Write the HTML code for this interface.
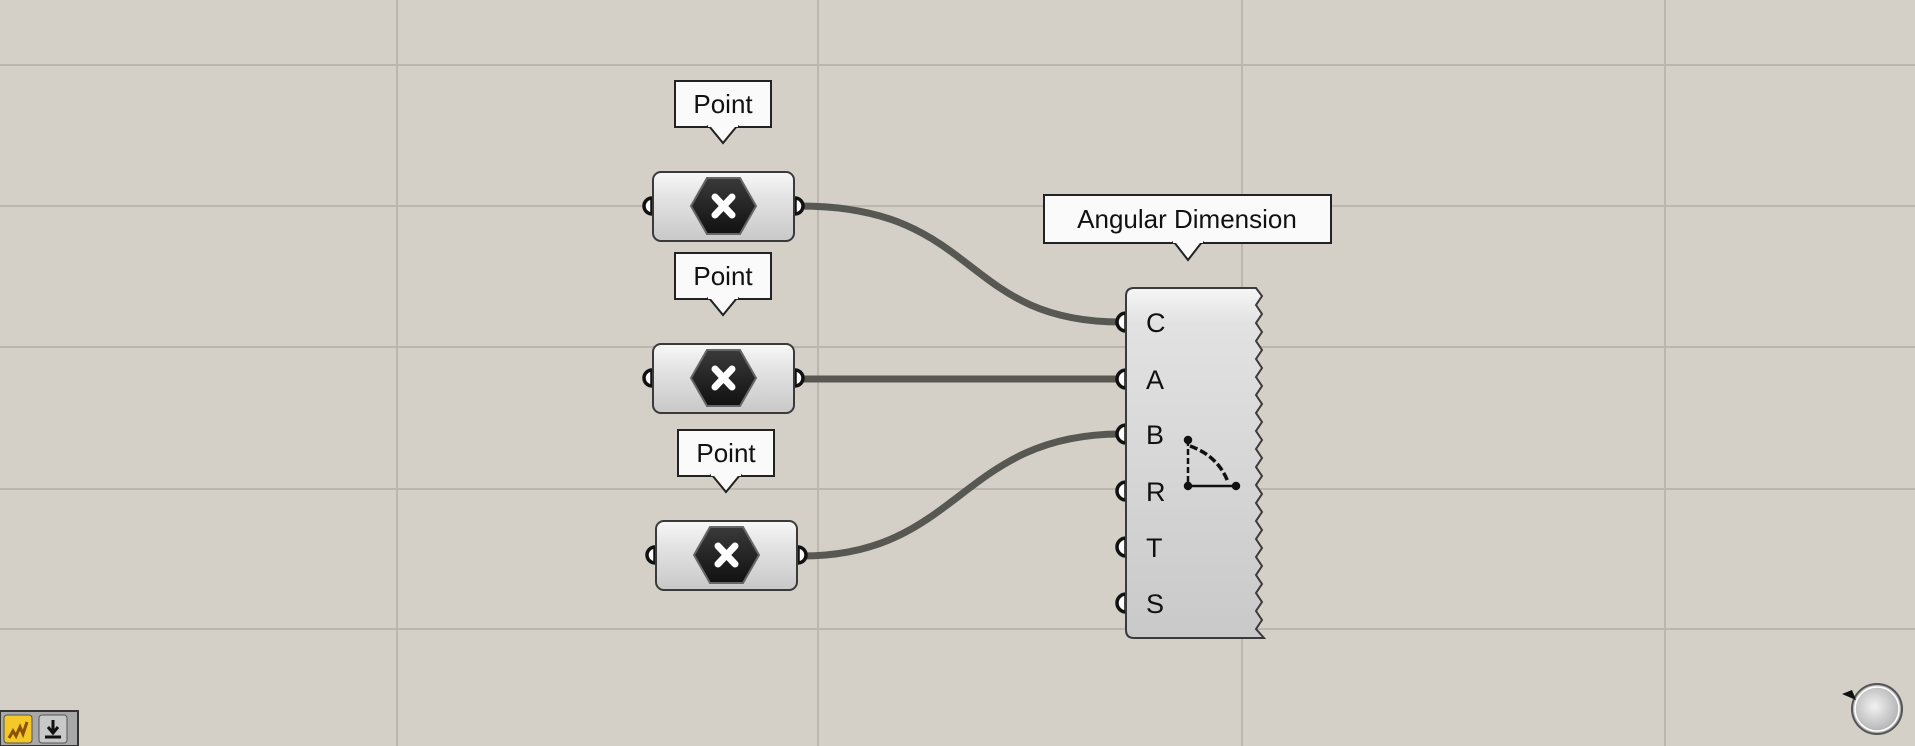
<!DOCTYPE html>
<html><head><meta charset="utf-8"><style>
html,body{margin:0;padding:0;background:#d4d0c8;}
svg{display:block}
text{font-family:"Liberation Sans","DejaVu Sans",sans-serif;}
</style></head><body>
<svg width="1915" height="746" viewBox="0 0 1915 746" xmlns="http://www.w3.org/2000/svg">
<defs>
<linearGradient id="ng" x1="0" y1="0" x2="0" y2="1">
<stop offset="0" stop-color="#f8f8f8"/><stop offset="0.35" stop-color="#e4e4e4"/><stop offset="1" stop-color="#c8c8c8"/>
</linearGradient>
<linearGradient id="bg2" x1="0" y1="0" x2="0" y2="1">
<stop offset="0" stop-color="#f6f6f6"/><stop offset="0.1" stop-color="#e2e2e2"/><stop offset="1" stop-color="#c9c9c9"/>
</linearGradient>
<linearGradient id="hg" x1="0" y1="0" x2="0" y2="1">
<stop offset="0" stop-color="#3a3a3a"/><stop offset="1" stop-color="#111"/>
</linearGradient>
<radialGradient id="cg" cx="0.45" cy="0.45" r="0.6">
<stop offset="0" stop-color="#f2f2f2"/><stop offset="1" stop-color="#a8a8a8"/>
</radialGradient>
<g id="pt">
<path d="M-1,26 A8,8 0 0 0 -1,42 Z" fill="#fff" stroke="#111" stroke-width="3.5"/>
<path d="M142,26 A8,8 0 0 1 142,42 Z" fill="#fff" stroke="#111" stroke-width="3.5"/>
<rect x="0" y="0" width="141" height="69" rx="8" fill="url(#ng)" stroke="#3a3a3a" stroke-width="2"/>
<polygon points="38,34 54,6 87,6 103,34 87,62 54,62" fill="url(#hg)" stroke="#666" stroke-width="2"/>
<path d="M62,25 L79,43 M79,25 L62,43" stroke="#fff" stroke-width="7" stroke-linecap="round"/>
</g>
<g id="lbl">
<rect x="0" y="0" width="96" height="46" fill="#fafafa" stroke="#222" stroke-width="2"/>
<polygon points="34,45 48,62 62,45" fill="#fafafa" stroke="#222" stroke-width="2"/>
<rect x="33" y="42" width="30" height="4" fill="#fafafa"/>
<text x="48" y="32" font-size="26" text-anchor="middle" fill="#111">Point</text>
</g>
<g id="ip">
<path d="M4,-9 A9,9 0 0 0 4,9 Z" fill="#fff" stroke="#111" stroke-width="3.5"/>
</g>
</defs>
<g stroke="#bbb7af" stroke-width="2">
<line x1="397" y1="0" x2="397" y2="746"/><line x1="818" y1="0" x2="818" y2="746"/>
<line x1="1242" y1="0" x2="1242" y2="746"/><line x1="1665" y1="0" x2="1665" y2="746"/>
<line x1="0" y1="65" x2="1915" y2="65"/><line x1="0" y1="206" x2="1915" y2="206"/>
<line x1="0" y1="347" x2="1915" y2="347"/><line x1="0" y1="489" x2="1915" y2="489"/>
<line x1="0" y1="629" x2="1915" y2="629"/>
</g>
<g fill="none" stroke="#585852" stroke-width="7">
<path d="M800,206 C980,206 960,322 1121,322"/>
<path d="M800,379 L1121,379"/>
<path d="M802,556 C960,556 960,434 1121,434"/>
</g>
<use href="#pt" x="653" y="172"/>
<use href="#pt" x="653" y="344"/>
<use href="#pt" x="656" y="521"/>
<use href="#lbl" x="675" y="81"/>
<use href="#lbl" x="675" y="253"/>
<use href="#lbl" x="678" y="430"/>
<g>
<rect x="1044" y="195" width="287" height="48" fill="#fafafa" stroke="#222" stroke-width="2"/>
<polygon points="1174,242 1188,260 1202,242" fill="#fafafa" stroke="#222" stroke-width="2"/>
<rect x="1173" y="239" width="30" height="4" fill="#fafafa"/>
<text x="1187" y="228" font-size="26" text-anchor="middle" fill="#111">Angular Dimension</text>
</g>
<use href="#ip" x="1122" y="322"/><use href="#ip" x="1122" y="379"/><use href="#ip" x="1122" y="434"/>
<use href="#ip" x="1122" y="491"/><use href="#ip" x="1122" y="547"/><use href="#ip" x="1122" y="603"/>
<path d="M1134,288 L1256,288 L1262,296 L1256,305 L1262,314 L1256,323 L1262,332 L1256,341 L1262,350 L1256,359 L1262,368 L1256,377 L1262,386 L1256,395 L1262,404 L1256,413 L1262,422 L1256,431 L1262,440 L1256,449 L1262,458 L1256,467 L1262,476 L1256,485 L1262,494 L1256,503 L1262,512 L1256,521 L1262,530 L1256,539 L1262,548 L1256,557 L1262,566 L1256,575 L1262,584 L1256,593 L1262,602 L1256,611 L1262,620 L1256,629 L1264,638 L1134,638 Q1126,638 1126,630 L1126,296 Q1126,288 1134,288 Z" fill="url(#bg2)" stroke="#3a3a3a" stroke-width="2"/>
<g font-size="27" fill="#111">
<text x="1146" y="332">C</text><text x="1146" y="389">A</text><text x="1146" y="444">B</text>
<text x="1146" y="501">R</text><text x="1146" y="557">T</text><text x="1146" y="613">S</text>
</g>
<g stroke="#111" stroke-width="2.5" fill="#111">
<line x1="1188" y1="440" x2="1188" y2="486" stroke-dasharray="6,3"/>
<line x1="1188" y1="486" x2="1232" y2="486"/>
<path d="M1190,446 Q1218,456 1228,482" fill="none" stroke-dasharray="8,3" stroke-width="3.5"/>
<circle cx="1188" cy="440" r="3"/><circle cx="1188" cy="486" r="3"/><circle cx="1236" cy="486" r="3"/>
</g>
<rect x="0" y="711" width="78" height="35" fill="#a8a8a8" stroke="#333" stroke-width="2"/>
<rect x="4" y="715" width="28" height="28" rx="3" fill="#f4c829" stroke="#555"/>
<path d="M9,738 L13,731 L16,736 L20,727 L23,734 L27,722" fill="none" stroke="#8a5200" stroke-width="3"/>
<rect x="39" y="715" width="28" height="28" rx="3" fill="#c8c8c8" stroke="#555"/>
<path d="M53,720 L53,731 M48,727 L53,733 L58,727 M45,737 L61,737" stroke="#111" stroke-width="3" fill="none"/>
<circle cx="1877" cy="709" r="25" fill="url(#cg)" stroke="#555" stroke-width="2"/>
<circle cx="1877" cy="709" r="22" fill="none" stroke="#fff" stroke-width="1.5"/>
<polygon points="1842,694 1852,690 1856,700" fill="#111"/>
</svg>
</body></html>
